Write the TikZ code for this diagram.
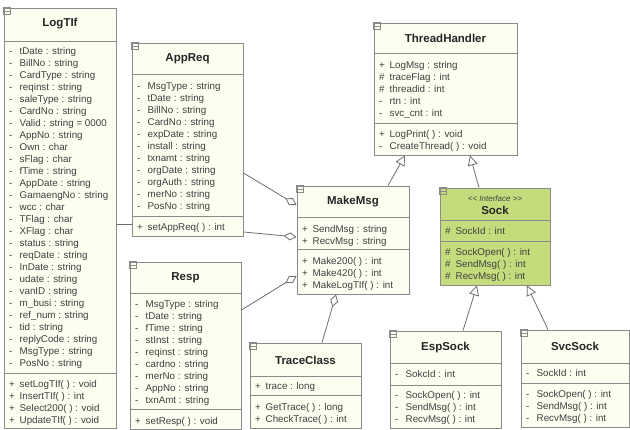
\documentclass[tikz,border=0pt]{standalone}
\usepackage{fontspec}
\setmainfont{Liberation Sans}
\usetikzlibrary{arrows.meta,fit}

\definecolor{boxfill}{HTML}{FDFDF0}
\definecolor{ifacefill}{HTML}{C4DC7C}
\definecolor{boxline}{HTML}{8A8A8A}
\definecolor{wireline}{HTML}{6E6E6E}
\definecolor{textgray}{HTML}{404040}

% visibility markers in a fixed-width column
\newcommand\vpriv{\makebox[10.5pt][l]{-}}
\newcommand\vpub{\makebox[10.5pt][l]{+}}
\newcommand\vprot{\makebox[10.5pt][l]{\#}}

\tikzset{
  classbox/.style={draw=boxline, line width=0.9pt, fill=boxfill, inner sep=0pt, rectangle},
  sepline/.style={draw=boxline, line width=0.9pt},
  classtitle/.style={font=\fontsize{11.5}{13}\selectfont\bfseries, text=black!85, inner sep=0pt},
  stereo/.style={font=\fontsize{8}{9}\selectfont\itshape, inner sep=0pt, text=textgray},
  rowtext/.style={anchor=west, inner sep=0pt, text height=6.9pt, text depth=0pt,
                  font=\fontsize{9.8}{12}\selectfont, text=textgray},
  fold/.style={draw=boxline, line width=0.6pt},
  assoc/.style={draw=wireline, line width=0.8pt},
  aggr/.style={assoc, -{Diamond[open, length=13pt, width=8pt]}},
  inherit/.style={assoc, -{Triangle[open, length=10pt, width=10pt]}},
}

% class frame: name, left, top, right, bottom, extra style, title rule, attribute rule
\newcommand\umlclass[8]{%
  \node[classbox, #6, fit={(#2,#3) (#4,#5)}] (#1) {};
  \draw[sepline] (#1.west |- 0,#7) -- (#1.east |- 0,#7);
  \draw[sepline] (#1.west |- 0,#8) -- (#1.east |- 0,#8);
  \draw[fold] (#1.north west) rectangle ++(7,7);
  \draw[fold] ([yshift=-3.5pt]#1.north west) -- ++(7,0);
}

% one text row per entry, 12pt apart: class name, prefix, x, first row y, rows
\newcommand\classrows[5]{%
  \foreach \rowtxt [count=\k from 0] in {#5} {
    \node[rowtext] (#1-#2\k) at (#3, {#4+12*\k}) {\rowtxt};
  }%
}

\begin{document}
\begin{tikzpicture}[x=1pt, y=-1pt]
\fill[white] (0,0) rectangle (630,430);
\useasboundingbox (0,0) rectangle (630,430);

% ---------------- LogTIf ----------------
\umlclass{logtif}{4}{8}{116}{428}{}{41}{373}
\node[classtitle] (logtif-title) at (60,24) {LogTIf};
\classrows{logtif}{a}{9}{51.5}{
  \vpriv tDate : string, \vpriv BillNo : string, \vpriv CardType : string,
  \vpriv reqinst : string, \vpriv saleType : string, \vpriv CardNo : string,
  \vpriv Valid : string = 0000, \vpriv AppNo : string, \vpriv Own : char,
  \vpriv sFlag : char, \vpriv fTime : string, \vpriv AppDate : string,
  \vpriv GamaengNo : string, \vpriv wcc : char, \vpriv TFlag : char,
  \vpriv XFlag : char, \vpriv status : string, \vpriv reqDate : string,
  \vpriv InDate : string, \vpriv udate : string, \vpriv vanID : string,
  \vpriv m\_busi : string, \vpriv ref\_num : string, \vpriv tid : string,
  \vpriv replyCode : string, \vpriv MsgType : string, \vpriv PosNo : string}
\classrows{logtif}{m}{9}{384}{
  \vpub setLogTIf( ) : void, \vpub InsertTIf( ) : int,
  \vpub Select200( ) : void, \vpub UpdateTIf( ) : void}

% ---------------- AppReq ----------------
\umlclass{appreq}{132}{43}{243}{236}{}{74}{216}
\node[classtitle] (appreq-title) at (187.5,59) {AppReq};
\classrows{appreq}{a}{137}{86}{
  \vpriv MsgType : string, \vpriv tDate : string, \vpriv BillNo : string,
  \vpriv CardNo : string, \vpriv expDate : string, \vpriv install : string,
  \vpriv txnamt : string, \vpriv orgDate : string, \vpriv orgAuth : string,
  \vpriv merNo : string, \vpriv PosNo : string}
\classrows{appreq}{m}{137}{227}{\vpub setAppReq( ) : int}

% ---------------- Resp ----------------
\umlclass{resp}{130}{262}{241}{429}{}{293}{409}
\node[classtitle] (resp-title) at (185.5,278) {Resp};
\classrows{resp}{a}{135}{304}{
  \vpriv MsgType : string, \vpriv tDate : string, \vpriv fTime : string,
  \vpriv stInst : string, \vpriv reqinst : string, \vpriv cardno : string,
  \vpriv merNo : string, \vpriv AppNo : string, \vpriv txnAmt : string}
\classrows{resp}{m}{135}{421}{\vpub setResp( ) : void}

% ---------------- MakeMsg ----------------
\umlclass{makemsg}{297}{186}{409}{294}{}{217}{249}
\node[classtitle] (makemsg-title) at (353,201.5) {MakeMsg};
\classrows{makemsg}{a}{302}{229}{\vpub SendMsg : string, \vpub RecvMsg : string}
\classrows{makemsg}{m}{302}{261}{
  \vpub Make200( ) : int, \vpub Make420( ) : int, \vpub MakeLogTIf( ) : int}

% ---------------- ThreadHandler ----------------
\umlclass{threadhandler}{374}{23}{517}{155}{}{53}{123}
\node[classtitle] (threadhandler-title) at (445.5,38) {ThreadHandler};
\classrows{threadhandler}{a}{379}{65}{
  \vpub LogMsg : string, \vprot traceFlag : int, \vprot threadid : int,
  \vpriv rtn : int, \vpriv svc\_cnt : int}
\classrows{threadhandler}{m}{379}{134}{
  \vpub LogPrint( ) : void, \vpriv CreateThread( ) : void}

% ---------------- Sock (interface) ----------------
\umlclass{sock}{440}{188}{550}{285}{fill=ifacefill}{220}{241}
\node[stereo] (sock-stereo) at (495,199) {<{}< Interface >{}>};
\node[classtitle] (sock-title) at (495,210.5) {Sock};
\classrows{sock}{a}{445}{231}{\vprot SockId : int}
\classrows{sock}{m}{445}{252}{
  \vprot SockOpen( ) : int, \vprot SendMsg( ) : int, \vprot RecvMsg( ) : int}

% ---------------- TraceClass ----------------
\umlclass{traceclass}{250}{343}{361}{428}{}{376}{395}
\node[classtitle] (traceclass-title) at (305.5,360) {TraceClass};
\classrows{traceclass}{a}{255}{386}{\vpub trace : long}
\classrows{traceclass}{m}{255}{407}{
  \vpub GetTrace( ) : long, \vpub CheckTrace( ) : int}

% ---------------- EspSock ----------------
\umlclass{espsock}{390}{331}{501}{428}{}{363}{385}
\node[classtitle] (espsock-title) at (445.5,347.5) {EspSock};
\classrows{espsock}{a}{395}{374}{\vpriv SokcId : int}
\classrows{espsock}{m}{395}{395}{
  \vpriv SockOpen( ) : int, \vpriv SendMsg( ) : int, \vpriv RecvMsg( ) : int}

% ---------------- SvcSock ----------------
\umlclass{svcsock}{521}{330}{629.5}{427}{}{363}{383}
\node[classtitle] (svcsock-title) at (575,346.5) {SvcSock};
\classrows{svcsock}{a}{526}{373}{\vpriv SockId : int}
\classrows{svcsock}{m}{526}{394}{
  \vpriv SockOpen( ) : int, \vpriv SendMsg( ) : int, \vpriv RecvMsg( ) : int}

% ---------------- relations ----------------
\draw[assoc] (logtif.east |- 0,224) -- (appreq.west |- 0,224);
\draw[aggr] (appreq.east |- 0,173) -- (makemsg.west |- 0,205);
\draw[aggr] (appreq.east |- 0,232) -- (makemsg.west |- 0,237);
\draw[aggr] (resp.east |- 0,310) -- (makemsg.west |- 0,276);
\draw[aggr] (traceclass.north -| 322,0) -- (makemsg.south -| 336,0);
\draw[inherit] (makemsg.north -| 388,0) -- (threadhandler.south -| 405,0);
\draw[inherit] (sock.north -| 479,0) -- (threadhandler.south -| 470,0);
\draw[inherit] (espsock.north -| 463,0) -- (sock.south -| 477,0);
\draw[inherit] (svcsock.north -| 548,0) -- (sock.south -| 527,0);
\end{tikzpicture}
\end{document}
